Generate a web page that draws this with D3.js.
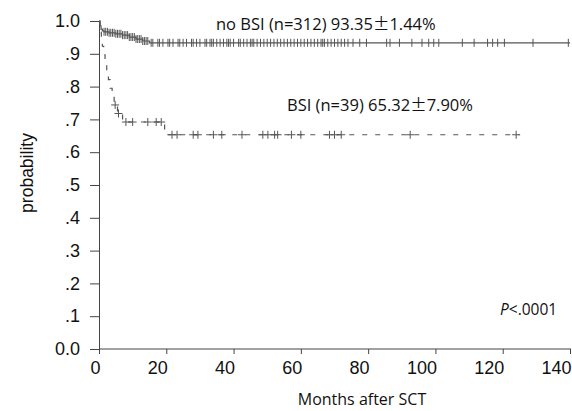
<!DOCTYPE html>
<html><head><meta charset="utf-8">
<script src="https://cdn.jsdelivr.net/npm/d3@7"></script>
<style>body{margin:0;background:#fff}svg{display:block}</style>
</head><body>
<svg id="c" width="572" height="411"></svg>
<script>
const xTicks = [0, 20, 40, 60, 80, 100, 120, 140];
const yTicks = [0, 0.1, 0.2, 0.3, 0.4, 0.5, 0.6, 0.7, 0.8, 0.9, 1.0];
const yTickLabels = ["0.0", ".1", ".2", ".3", ".4", ".5", ".6", ".7", ".8", ".9", "1.0"];

const noBsiTimes = [0, 0.3, 0.6, 1.0, 1.5, 3, 5, 7, 9, 11, 13, 15, 140];
const noBsiSurv  = [1.0, 0.985, 0.975, 0.97, 0.967, 0.964, 0.961, 0.957, 0.951, 0.945, 0.939, 0.9335, 0.9335];
const noBsiCensor = [1.5, 2, 2.5, 3, 3.5, 4, 4.5, 5, 5.5, 6, 6.5, 7, 7.5, 8, 8.5, 9, 9.5, 10, 10.5, 11, 11.5, 12, 12.5, 13, 13.5, 14, 14.5,
  15.5, 16, 17.5, 18, 19, 20.5, 21, 22, 23.5, 24, 25, 26, 27.5, 28, 29, 30, 31.5, 32, 33, 33.5, 34, 35, 36, 37, 38, 38.5, 39, 40,
  41.5, 42, 43, 44, 45, 45.5, 46, 47, 48, 49, 50, 51, 52, 53, 54, 55, 56, 57, 58, 59, 60, 61, 62, 63, 64, 65, 66, 66.5, 67, 68, 69,
  70, 71, 72, 73, 74, 75.5, 77.5, 79.5, 85.5, 86.5, 89.3, 93, 96, 98, 99.5, 101, 108, 111.5, 115.5, 117, 118.5, 120.5, 129, 139.5];

const bsiTimes = [0, 0.3, 0.7, 1.0, 1.4, 1.8, 2.3, 2.8, 3.3, 3.9, 4.5, 5.5, 7.0, 19.5, 125];
const bsiSurv  = [1.0, 0.974, 0.949, 0.923, 0.897, 0.872, 0.846, 0.821, 0.795, 0.769, 0.744, 0.718, 0.692, 0.6532, 0.6532];
const bsiCensor = [4.8, 5.8, 8, 10, 14.5, 17, 18.5, 21.7, 23.2, 28, 29.4, 34, 36.5, 42.5, 48.7, 50.2, 52.2, 53.1, 57.2, 60, 68.5, 70, 72, 92.5, 124];

const svg = d3.select("#c");
const x = d3.scaleLinear().domain([0, 140]).range([99, 570]);
const y = d3.scaleLinear().domain([0, 1]).range([349, 21]);
const axisColor = "#444";
const lineColor = "#555";

// axes
const xAxis = svg.append("g").attr("transform", "translate(0,349)")
  .call(d3.axisBottom(x).tickValues(xTicks).tickSize(5).tickSizeOuter(0).tickFormat(d3.format("d")));
xAxis.select(".domain").attr("stroke", axisColor).attr("d", "M99,0H571");
xAxis.selectAll(".tick line").attr("stroke", axisColor);
xAxis.selectAll(".tick text").attr("text-anchor", "end").attr("dx", "1px").attr("y", 12).attr("dy", "0.71em")
  .attr("font-family", "Liberation Sans, Arial, sans-serif").attr("font-size", 18).attr("fill", "#111");

const yAxis = svg.append("g").attr("transform", "translate(99,0)")
  .call(d3.axisLeft(y).tickValues(yTicks).tickSize(9).tickSizeOuter(0).tickFormat((d, i) => yTickLabels[i]));
yAxis.select(".domain").attr("stroke", axisColor);
yAxis.selectAll(".tick line").attr("stroke", axisColor);
yAxis.selectAll(".tick text").attr("x", -19)
  .attr("font-family", "Liberation Sans, Arial, sans-serif").attr("font-size", 18).attr("fill", "#111");

// curves
const line = d3.line().x(d => x(d[0])).y(d => y(d[1])).curve(d3.curveStepAfter);
const noBsi = noBsiTimes.map((t, i) => [t, noBsiSurv[i]]);
const bsi = bsiTimes.map((t, i) => [t, bsiSurv[i]]);

function survAt(times, surv, t) {
  let v = surv[0];
  for (let i = 0; i < times.length; i++) if (times[i] <= t) v = surv[i];
  return v;
}

svg.append("path").attr("d", line(noBsi)).attr("fill", "none").attr("stroke", lineColor).attr("stroke-width", 1.2);
svg.append("path").attr("d", line(bsi)).attr("fill", "none").attr("stroke", lineColor).attr("stroke-width", 1.2)
  .attr("stroke-dasharray", "5,8");

svg.append("g").selectAll("line").data(noBsiCensor).join("line")
  .attr("x1", d => x(d)).attr("x2", d => x(d))
  .attr("y1", d => y(survAt(noBsiTimes, noBsiSurv, d)) - 4)
  .attr("y2", d => y(survAt(noBsiTimes, noBsiSurv, d)) + 4)
  .attr("stroke", lineColor).attr("stroke-width", 1);

const bc = svg.append("g").selectAll("g").data(bsiCensor).join("g")
  .attr("transform", d => `translate(${x(d)},${y(survAt(bsiTimes, bsiSurv, d))})`);
bc.append("line").attr("x1", 0).attr("x2", 0).attr("y1", -4).attr("y2", 4).attr("stroke", lineColor);
bc.append("line").attr("x1", -4).attr("x2", 4).attr("y1", 0).attr("y2", 0).attr("stroke", lineColor);

// texts
const tf = "Open Sans, Lato, sans-serif";
const pm = "Noto Sans CJK JP, sans-serif";
function label(xp, yp, a, b, c) {
  const t = svg.append("text").attr("x", xp).attr("y", yp).attr("font-family", tf).attr("font-size", 16.5).attr("fill", "#111");
  t.append("tspan").text(a);
  t.append("tspan").attr("font-family", pm).text(b);
  t.append("tspan").text(c);
  return t;
}
label(216, 30, "no BSI (n=312) 93.35", "±", "1.44%");
label(287, 111, "BSI (n=39) 65.32", "±", "7.90%");
const p = svg.append("text").attr("x", 500).attr("y", 315).attr("font-family", tf).attr("font-size", 15.5).attr("fill", "#111");
p.append("tspan").attr("font-style", "italic").text("P");
p.append("tspan").text("<.0001");

svg.append("text").attr("x", 362).attr("y", 405).attr("text-anchor", "middle").attr("font-family", tf)
  .attr("font-size", 16).attr("fill", "#111").text("Months after SCT");
svg.append("text").attr("transform", "translate(33,173) rotate(-90)").attr("text-anchor", "middle")
  .attr("font-family", "Liberation Sans, Arial, sans-serif").attr("font-size", 17.5).attr("fill", "#111").text("probability");
</script>
</body></html>
